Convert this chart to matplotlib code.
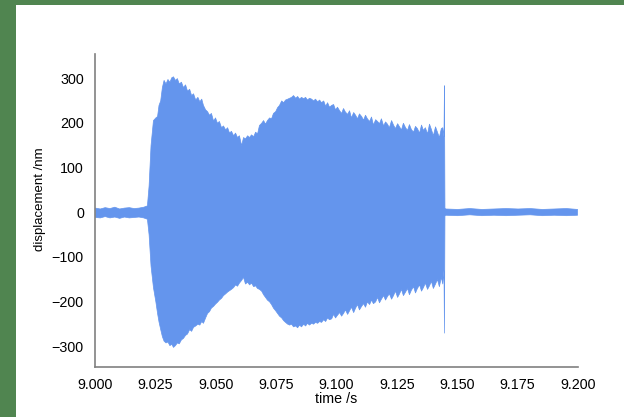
import matplotlib
matplotlib.use("Agg")
import matplotlib.pyplot as plt
from matplotlib.patches import Rectangle

# envelope of the trace (time in s, displacement in nm)
pre_t = [9.000, 9.002, 9.004, 9.006, 9.008, 9.010, 9.012, 9.014, 9.016, 9.018, 9.020]
pre_upper = [10, 8, 11, 9, 12, 8, 10, 11, 9, 10, 12]
pre_lower = [-11, -12, -9, -12, -10, -13, -10, -12, -11, -10, -12]

main_t = [9.0215, 9.0222, 9.0230, 9.0240, 9.0250, 9.0257, 9.0263, 9.0270, 9.0277, 9.0284,
          9.0292, 9.0300, 9.0308, 9.0316, 9.0323, 9.0331, 9.0339, 9.0347, 9.0356, 9.0364,
          9.0373, 9.0381, 9.0390, 9.0398, 9.0406, 9.0415, 9.0424, 9.0432, 9.0440, 9.0447,
          9.0456, 9.0464, 9.0472, 9.0480, 9.0489, 9.0497, 9.0505, 9.0513, 9.0522, 9.0530,
          9.0539, 9.0547, 9.0555, 9.0563, 9.0572, 9.0580, 9.0588, 9.0596, 9.0605, 9.0613,
          9.0621, 9.0630, 9.0638, 9.0646, 9.0655, 9.0663, 9.0671, 9.0679, 9.0688, 9.0696,
          9.0704, 9.0712, 9.0721, 9.0729, 9.0737, 9.0746, 9.0754, 9.0762, 9.0771, 9.0779,
          9.0787, 9.0796, 9.0804, 9.0812, 9.0820, 9.0829, 9.0837, 9.0845, 9.0853, 9.0862,
          9.0870, 9.0878, 9.0886, 9.0895, 9.0903, 9.0911, 9.0920, 9.0928, 9.0936, 9.0945,
          9.0953, 9.0961, 9.0969, 9.0978, 9.0986, 9.0994, 9.1002, 9.1011, 9.1019, 9.1027,
          9.1035, 9.1044, 9.1052, 9.1060, 9.1069, 9.1077, 9.1085, 9.1093, 9.1102, 9.1110,
          9.1118, 9.1126, 9.1135, 9.1143, 9.1151, 9.1160, 9.1168, 9.1176, 9.1184, 9.1193,
          9.1201, 9.1209, 9.1217, 9.1226, 9.1234, 9.1242, 9.1251, 9.1259, 9.1267, 9.1275,
          9.1284, 9.1292, 9.1300, 9.1308, 9.1317, 9.1325, 9.1333, 9.1342, 9.1350, 9.1358,
          9.1366, 9.1375, 9.1383, 9.1391, 9.1399, 9.1408, 9.1416, 9.1424, 9.1432, 9.1438,
          9.1443, 9.1445, 9.1447]
main_upper = [15, 60, 150, 206, 212, 215, 240, 250, 280, 296,
              288, 298, 292, 302, 304, 296, 300, 288, 292, 280,
              286, 272, 276, 262, 266, 252, 258, 248, 254, 240,
              230, 226, 218, 222, 205, 212, 200, 204, 190, 194,
              185, 190, 178, 182, 172, 178, 168, 172, 150, 168,
              165, 172, 168, 174, 170, 180, 176, 195, 200, 206,
              198, 206, 212, 210, 222, 226, 235, 240, 250, 246,
              252, 254, 256, 258, 262, 256, 260, 254, 258, 255,
              258, 252, 256, 254, 250, 254, 248, 252, 246, 250,
              238, 246, 236, 240, 242, 230, 236, 228, 222, 233,
              225, 220, 228, 212, 224, 218, 210, 221, 215, 207,
              218, 210, 204, 214, 196, 208, 204, 199, 210, 194,
              203, 198, 190, 206, 196, 188, 199, 192, 185, 200,
              190, 184, 197, 186, 180, 193, 188, 178, 196, 184,
              190, 176, 198, 186, 172, 192, 180, 168, 188, 190,
              170, 284, 10]
main_lower = [-15, -50, -120, -168, -200, -226, -245, -262, -278, -288,
              -292, -290, -298, -295, -302, -298, -292, -294, -285, -282,
              -275, -272, -262, -266, -257, -254, -250, -252, -244, -248,
              -236, -226, -222, -214, -210, -205, -201, -196, -192, -186,
              -182, -178, -175, -172, -168, -162, -165, -158, -152, -145,
              -160, -156, -162, -158, -166, -164, -170, -172, -176, -184,
              -190, -196, -200, -206, -214, -220, -226, -232, -236, -242,
              -246, -250, -252, -250, -256, -254, -258, -252, -256, -250,
              -254, -248, -252, -248, -250, -246, -248, -244, -246, -240,
              -244, -236, -240, -238, -228, -236, -230, -224, -232, -226,
              -218, -228, -220, -212, -224, -214, -206, -218, -210, -204,
              -212, -200, -206, -196, -204, -200, -190, -202, -194, -186,
              -196, -188, -182, -194, -186, -176, -190, -182, -172, -186,
              -178, -170, -184, -174, -166, -180, -170, -162, -176, -168,
              -158, -172, -164, -154, -170, -160, -150, -166, -145, -160,
              -130, -270, -8]

post_t = [9.1450, 9.150, 9.155, 9.160, 9.165, 9.170, 9.175, 9.180, 9.185, 9.190, 9.195, 9.1996]
post_upper = [8, 7, 9, 7, 8, 9, 8, 9, 7, 8, 9, 7]
post_lower = [-6, -7, -5, -7, -6, -7, -6, -5, -7, -6, -7, -6]

t = pre_t + main_t + post_t
upper = pre_upper + main_upper + post_upper
lower = pre_lower + main_lower + post_lower

x_ticks = [9.000, 9.025, 9.050, 9.075, 9.100, 9.125, 9.150, 9.175, 9.200]
y_ticks = [-300, -200, -100, 0, 100, 200, 300]

plt.rcParams['font.family'] = ['Liberation Sans', 'DejaVu Sans']

fig = plt.figure(figsize=(6.24, 4.17), dpi=100, facecolor='#508550')
# white canvas inside the green frame
fig.patches.append(Rectangle((16 / 624, 0), 1, 1 - 5 / 417, transform=fig.transFigure,
                             facecolor='white', edgecolor='none', zorder=-10))

ax = fig.add_axes([95 / 624, 50 / 417, 483 / 624, 313 / 417])
ax.set_zorder(5)
ax.set_facecolor('white')
ax.fill_between(t, lower, upper, color='cornflowerblue', linewidth=0.5, edgecolor='cornflowerblue')

ax.set_xlim(9.0, 9.2)
ax.set_ylim(-347, 354)
ax.set_xticks(x_ticks)
ax.set_xticklabels([f"{v:.3f}" for v in x_ticks])
ax.set_yticks(y_ticks)
ax.set_yticklabels([str(v).replace('-', '\u2212') for v in y_ticks])
ax.tick_params(length=0, labelsize=10.3, pad=8)

for side in ['top', 'right']:
    ax.spines[side].set_visible(False)
for side in ['left', 'bottom']:
    ax.spines[side].set_color('#808080')
    ax.spines[side].set_linewidth(1.2)

ax.set_xlabel('time /s', fontsize=10.3)
ax.set_ylabel('displacement /nm', fontsize=9.5)
ax.xaxis.set_label_coords(0.5, -0.08)
ax.yaxis.set_label_coords(-0.101, 0.537)

fig.savefig('out.png', dpi=100, facecolor=fig.get_facecolor())
